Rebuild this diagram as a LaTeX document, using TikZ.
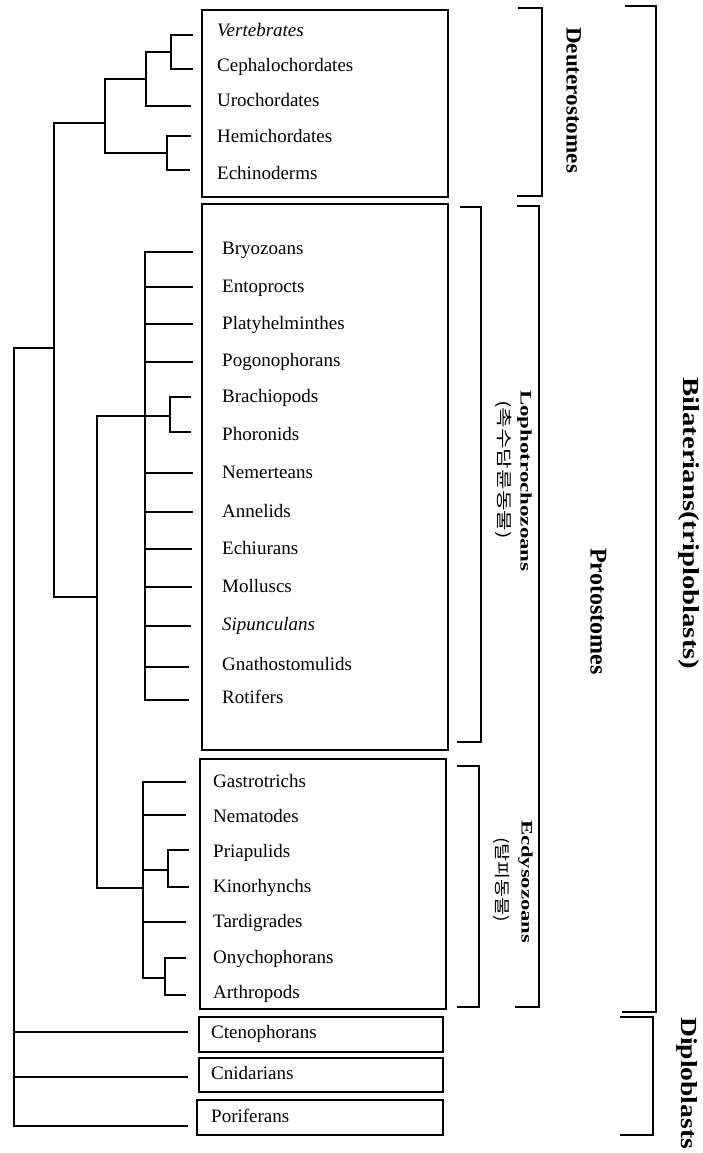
\documentclass[tikz,border=0pt]{standalone}
\usepackage{fontspec}
\setmainfont{Liberation Serif}
\newfontfamily\korfont{Noto Sans CJK KR}
\begin{document}
\begin{tikzpicture}[x=1pt,y=-1pt,
  tree/.style={line width=1.7pt, line cap=rect},
  box/.style={line width=1.7pt},
  brk/.style={line width=1.7pt},
  leaf/.style={anchor=west, inner sep=0pt, yshift=-3pt, font=\fontsize{19}{19}\selectfont, text height=0.7em, text depth=0.2em},
  vlab/.style={rotate=-90, anchor=west, inner sep=0pt, text height=0.7em, text depth=0.2em}]
\useasboundingbox (0,0) rectangle (702,1153);

% ---------- boxes ----------
\draw[box] (202,10) rectangle (448,197);
\draw[box] (202,204) rectangle (448,750);
\draw[box] (200,759) rectangle (446,1009);
\draw[box] (199,1017) rectangle (443,1052);
\draw[box] (199,1058) rectangle (443,1092);
\draw[box] (197,1100) rectangle (443,1135);

% ---------- leaf labels ----------
\node[leaf] (lV)  at (217,31)  {\itshape Vertebrates};
\node[leaf] (lC)  at (217,66)  {Cephalochordates};
\node[leaf] (lU)  at (217,101) {Urochordates};
\node[leaf] (lH)  at (217,137) {Hemichordates};
\node[leaf] (lEc) at (217,174) {Echinoderms};

\node[leaf] (lBr) at (222,249) {Bryozoans};
\node[leaf] (lEn) at (222,287) {Entoprocts};
\node[leaf] (lPl) at (222,324) {Platyhelminthes};
\node[leaf] (lPg) at (222,361) {Pogonophorans};
\node[leaf] (lBa) at (222,397) {Brachiopods};
\node[leaf] (lPh) at (222,435) {Phoronids};
\node[leaf] (lNe) at (222,473) {Nemerteans};
\node[leaf] (lAn) at (222,512) {Annelids};
\node[leaf] (lEu) at (222,549) {Echiurans};
\node[leaf] (lMo) at (222,587) {Molluscs};
\node[leaf] (lSi) at (222,625) {\itshape Sipunculans};
\node[leaf] (lGn) at (222,665) {Gnathostomulids};
\node[leaf] (lRo) at (222,698) {Rotifers};

\node[leaf] (lGa) at (213,782) {Gastrotrichs};
\node[leaf] (lNm) at (213,817) {Nematodes};
\node[leaf] (lPr) at (213,852) {Priapulids};
\node[leaf] (lKi) at (213,887) {Kinorhynchs};
\node[leaf] (lTa) at (213,922) {Tardigrades};
\node[leaf] (lOn) at (213,958) {Onychophorans};
\node[leaf] (lAr) at (213,993) {Arthropods};

\node[leaf] (lCt) at (211,1033) {Ctenophorans};
\node[leaf] (lCn) at (211,1074) {Cnidarians};
\node[leaf] (lPo) at (211,1117) {Poriferans};

% ---------- leaf tips ----------
\coordinate (tV)  at (192,35);
\coordinate (tC)  at (192,69);
\coordinate (tU)  at (190,106);
\coordinate (tH)  at (190,136);
\coordinate (tEc) at (189,170);

\coordinate (tBr) at (192,252);
\coordinate (tEn) at (192,287);
\coordinate (tPl) at (192,324);
\coordinate (tPg) at (192,362);
\coordinate (tBa) at (190,397);
\coordinate (tPh) at (190,432);
\coordinate (tNe) at (192,473);
\coordinate (tAn) at (192,512);
\coordinate (tEu) at (191,549);
\coordinate (tMo) at (191,587);
\coordinate (tSi) at (190,626);
\coordinate (tGn) at (188,667);
\coordinate (tRo) at (188,700);

\coordinate (tGa) at (185,782);
\coordinate (tNm) at (185,815);
\coordinate (tPr) at (188,850);
\coordinate (tKi) at (188,887);
\coordinate (tTa) at (185,922);
\coordinate (tOn) at (185,958);
\coordinate (tAr) at (185,995);

\coordinate (tCt) at (187,1032);
\coordinate (tCn) at (187,1077);
\coordinate (tPo) at (187,1126);

% ---------- internal nodes ----------
\coordinate (nVC) at (171,52);
\coordinate (nCh) at (146,79);
\coordinate (nHE) at (167,153);
\coordinate (nD)  at (105,123);
\coordinate (nB)  at (54,348);
\coordinate (nR)  at (14,348);
\coordinate (nP)  at (97,597);
\coordinate (nL)  at (145,416);
\coordinate (nBP) at (170,416);
\coordinate (nE)  at (143,888);
\coordinate (nPK) at (168,870);
\coordinate (nOA) at (165,978);

% ---------- tree ----------
\begin{scope}[tree]
\draw (nVC) |- (tV);  \draw (nVC) |- (tC);
\draw (nCh) |- (nVC); \draw (nCh) |- (tU);
\draw (nHE) |- (tH);  \draw (nHE) |- (tEc);
\draw (nD) |- (nCh);  \draw (nD) |- (nHE);
\draw (nB) |- (nD);   \draw (nB) |- (nP);
\draw (nR) -- (nB);
\draw (nP) |- (nL);   \draw (nP) |- (nE);
\foreach \t in {tBr,tEn,tPl,tPg,tNe,tAn,tEu,tMo,tSi,tGn,tRo}
  \draw (nL) |- (\t);
\draw (nL) -- (nBP);
\draw (nBP) |- (tBa); \draw (nBP) |- (tPh);
\foreach \t in {tGa,tNm,tTa}
  \draw (nE) |- (\t);
\draw (nE) |- (nPK);  \draw (nE) |- (nOA);
\draw (nPK) |- (tPr); \draw (nPK) |- (tKi);
\draw (nOA) |- (tOn); \draw (nOA) |- (tAr);
\draw (nR) |- (tCt);  \draw (nR) |- (tCn); \draw (nR) |- (tPo);
\end{scope}

% ---------- brackets ----------
\coordinate (bDa) at (518,8);    \coordinate (bDb) at (542,196);  \coordinate (bDc) at (517,196);
\coordinate (bBa) at (625,6);    \coordinate (bBb) at (656,1012); \coordinate (bBc) at (622,1012);
\coordinate (bLa) at (460,207);  \coordinate (bLb) at (481,742);  \coordinate (bLc) at (457,742);
\coordinate (bPa) at (517,206);  \coordinate (bPb) at (539,1007); \coordinate (bPc) at (515,1007);
\coordinate (bEa) at (457,766);  \coordinate (bEb) at (479,1007); \coordinate (bEc) at (457,1007);
\coordinate (bXa) at (620,1017); \coordinate (bXb) at (653,1135); \coordinate (bXc) at (620,1135);
\draw[brk] (bDa) -| (bDb) -- (bDc);
\draw[brk] (bBa) -| (bBb) -- (bBc);
\draw[brk] (bLa) -| (bLb) -- (bLc);
\draw[brk] (bPa) -| (bPb) -- (bPc);
\draw[brk] (bEa) -| (bEb) -- (bEc);
\draw[brk] (bXa) -| (bXb) -- (bXc);

% ---------- group labels ----------
\node[vlab, font=\bfseries\fontsize{22}{22}\selectfont] (gD) at (569,27) {\scalebox{1.05}[1]{Deuterostomes}};
\node[vlab, font=\bfseries\fontsize{16}{16}\selectfont] (gL) at (523,390) {\scalebox{1.43}[1]{Lophotrochozoans}};
\node[vlab, font=\korfont\fontsize{16}{16}\selectfont] (gLk) at (501,400) {\scalebox{1.4}[1]{(촉수담륜동물)}};
\node[vlab, font=\bfseries\fontsize{16}{16}\selectfont] (gE) at (524,820) {\scalebox{1.41}[1]{Ecdysozoans}};
\node[vlab, font=\korfont\fontsize{16}{16}\selectfont] (gEk) at (499,837) {\scalebox{1.22}[1]{(탈피동물)}};
\node[vlab, font=\bfseries\fontsize{24}{24}\selectfont] (gP) at (593,548) {Protostomes};
\node[vlab, font=\bfseries\fontsize{23}{23}\selectfont] (gB) at (686,377) {\scalebox{1.25}[1]{Bilaterians(triploblasts)}};
\node[vlab, font=\bfseries\fontsize{23}{23}\selectfont] (gX) at (684,1017) {\scalebox{1.2}[1]{Diploblasts}};
\end{tikzpicture}
\end{document}
